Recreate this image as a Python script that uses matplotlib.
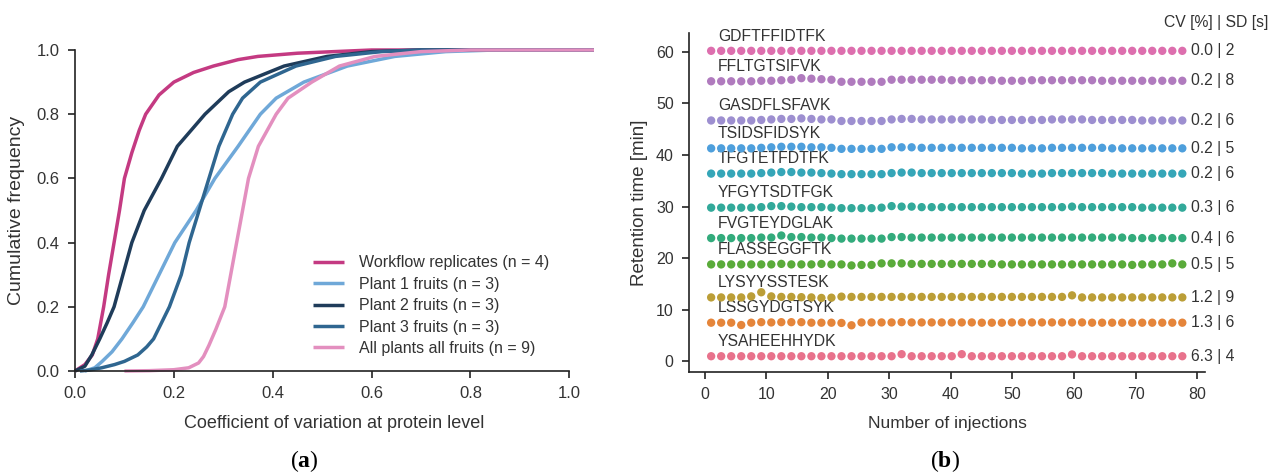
import matplotlib
matplotlib.use("Agg")
import matplotlib.pyplot as plt

plt.rcParams['font.family'] = ['Liberation Sans', 'DejaVu Sans']
plt.rcParams['mathtext.fontset'] = 'custom'
plt.rcParams['mathtext.rm'] = 'Liberation Serif'
plt.rcParams['mathtext.bf'] = 'Liberation Serif:bold'

TXT = '#333333'

# ---------------- Panel (a) data: cumulative CV curves ----------------
series_names = ['Workflow replicates (n = 4)', 'Plant 1 fruits (n = 3)',
                'Plant 2 fruits (n = 3)', 'Plant 3 fruits (n = 3)',
                'All plants all fruits (n = 9)']
series_colors = ['#c43a82', '#6fa8d8', '#1f3c5a', '#2f6690', '#e38fbf']

wf_x = [0, 0.02, 0.035, 0.046, 0.058, 0.068, 0.079, 0.09, 0.10, 0.115, 0.13, 0.143,
        0.17, 0.2, 0.24, 0.28, 0.33, 0.37, 0.45, 0.6, 1.05]
wf_y = [0, 0.02, 0.05, 0.10, 0.2, 0.3, 0.4, 0.5, 0.6, 0.68, 0.75, 0.8,
        0.86, 0.9, 0.93, 0.95, 0.97, 0.98, 0.99, 1.0, 1.0]

p1_x = [0.02, 0.04, 0.055, 0.075, 0.095, 0.117, 0.138, 0.17, 0.202, 0.245, 0.283,
        0.33, 0.375, 0.407, 0.463, 0.551, 0.647, 0.75, 0.85, 1.05]
p1_y = [0, 0.01, 0.03, 0.06, 0.1, 0.15, 0.2, 0.3, 0.4, 0.5, 0.6,
        0.7, 0.8, 0.85, 0.9, 0.95, 0.98, 0.995, 1.0, 1.0]

p2_x = [0, 0.02, 0.034, 0.05, 0.065, 0.079, 0.097, 0.115, 0.14, 0.175, 0.207,
        0.235, 0.263, 0.311, 0.343, 0.423, 0.51, 0.6, 0.7, 1.05]
p2_y = [0, 0.015, 0.05, 0.1, 0.15, 0.2, 0.3, 0.4, 0.5, 0.6, 0.7,
        0.75, 0.8, 0.87, 0.9, 0.95, 0.98, 0.995, 1.0, 1.0]

p3_x = [0.01, 0.03, 0.054, 0.08, 0.1, 0.127, 0.145, 0.159, 0.175, 0.191, 0.215,
        0.231, 0.251, 0.271, 0.291, 0.319, 0.339, 0.375, 0.447, 0.527, 0.62, 0.7, 1.05]
p3_y = [0, 0.003, 0.01, 0.02, 0.03, 0.05, 0.075, 0.1, 0.15, 0.2, 0.3,
        0.4, 0.5, 0.6, 0.7, 0.8, 0.85, 0.9, 0.95, 0.98, 0.995, 1.0, 1.0]

all_x = [0.1, 0.15, 0.2, 0.23, 0.25, 0.26, 0.271, 0.285, 0.303, 0.315, 0.327,
         0.339, 0.351, 0.371, 0.407, 0.431, 0.479, 0.535, 0.607, 0.7, 0.8, 1.05]
all_y = [0, 0.001, 0.004, 0.01, 0.025, 0.045, 0.08, 0.13, 0.2, 0.3, 0.4,
         0.5, 0.6, 0.7, 0.8, 0.85, 0.9, 0.95, 0.98, 0.995, 1.0, 1.0]

curves_x = [wf_x, p1_x, p2_x, p3_x, all_x]
curves_y = [wf_y, p1_y, p2_y, p3_y, all_y]

# ---------------- Panel (b) data: retention times ----------------
injections = [1.0, 2.63, 4.26, 5.89, 7.52, 9.15, 10.78, 12.41, 14.04, 15.67, 17.3, 18.93,
              20.56, 22.19, 23.82, 25.45, 27.08, 28.71, 30.34, 31.97, 33.6, 35.23, 36.86, 38.49,
              40.12, 41.75, 43.38, 45.01, 46.64, 48.27, 49.9, 51.53, 53.16, 54.79, 56.42, 58.05,
              59.68, 61.31, 62.94, 64.57, 66.2, 67.83, 69.46, 71.09, 72.72, 74.35, 75.98, 77.61]

peptides = ['YSAHEEHHYDK', 'LSSGYDGTSYK', 'LYSYYSSTESK', 'FLASSEGGFTK', 'FVGTEYDGLAK',
            'YFGYTSDTFGK', 'TFGTETFDTFK', 'TSIDSFIDSYK', 'GASDFLSFAVK', 'FFLTGTSIFVK',
            'GDFTFFIDTFK']
cv_sd = ['6.3 | 4', '1.3 | 6', '1.2 | 9', '0.5 | 5', '0.4 | 6', '0.3 | 6', '0.2 | 6',
         '0.2 | 5', '0.2 | 6', '0.2 | 8', '0.0 | 2']
pep_colors = ['#e8728c', '#e5853a', '#bb9e37', '#5aab3a', '#33ab7c', '#32a99a',
              '#35a6b8', '#4e9fdc', '#9d8fd0', '#b07bbe', '#dd6fae']

rt_YSAH = [1.0, 1.0, 1.0, 1.0, 1.0, 1.0, 1.0, 1.0, 1.0, 1.0, 1.0, 1.0,
           1.0, 1.0, 1.0, 1.0, 1.0, 1.0, 1.0, 1.4, 1.0, 1.0, 1.0, 1.0,
           1.0, 1.4, 1.0, 1.0, 1.0, 1.0, 1.0, 1.0, 1.0, 1.0, 1.0, 1.0,
           1.35, 1.0, 1.0, 1.0, 1.0, 1.0, 1.0, 1.0, 1.0, 1.0, 1.0, 1.0]
rt_LSSG = [7.5, 7.5, 7.5, 7.05, 7.5, 7.6, 7.55, 7.6, 7.6, 7.6, 7.5, 7.5,
           7.5, 7.45, 7.0, 7.55, 7.55, 7.55, 7.55, 7.6, 7.55, 7.55, 7.55, 7.55,
           7.55, 7.55, 7.55, 7.5, 7.5, 7.5, 7.55, 7.55, 7.55, 7.55, 7.55, 7.55,
           7.55, 7.55, 7.5, 7.5, 7.5, 7.5, 7.5, 7.5, 7.5, 7.5, 7.5, 7.5]
rt_LYSY = [12.4, 12.4, 12.4, 12.4, 12.6, 13.4, 12.6, 12.5, 12.5, 12.45, 12.4, 12.3,
           12.35, 12.55, 12.5, 12.5, 12.5, 12.5, 12.5, 12.5, 12.5, 12.5, 12.5, 12.5,
           12.5, 12.5, 12.5, 12.5, 12.5, 12.5, 12.5, 12.5, 12.5, 12.5, 12.5, 12.5,
           12.8, 12.4, 12.4, 12.4, 12.4, 12.4, 12.4, 12.4, 12.4, 12.4, 12.4, 12.4]
rt_FLAS = [18.8, 18.8, 18.8, 18.8, 18.8, 18.8, 18.8, 18.9, 18.8, 18.8, 18.8, 18.9,
           18.8, 18.8, 18.6, 18.7, 18.7, 19.0, 19.0, 19.0, 18.9, 18.9, 18.9, 18.9,
           18.9, 18.9, 18.9, 18.9, 18.9, 18.8, 18.8, 18.8, 18.8, 18.8, 18.8, 18.8,
           18.8, 18.8, 18.8, 18.8, 18.8, 18.8, 18.7, 18.8, 18.8, 18.8, 19.0, 18.8]
rt_FVGT = [23.9, 23.9, 23.9, 23.9, 23.9, 24.0, 24.0, 24.4, 24.1, 24.1, 24.0, 24.0,
           23.9, 23.8, 23.8, 23.8, 23.8, 23.8, 24.1, 24.1, 24.0, 24.0, 24.0, 24.0,
           24.0, 24.0, 24.0, 24.0, 24.0, 24.0, 24.0, 24.0, 24.0, 24.0, 24.0, 24.0,
           24.0, 24.0, 24.0, 24.0, 24.0, 24.0, 23.9, 23.9, 23.9, 23.9, 23.9, 23.9]
rt_YFGY = [29.8, 29.8, 29.8, 29.8, 29.8, 29.9, 30.1, 30.1, 30.0, 29.9, 29.9, 29.9,
           29.8, 29.7, 29.7, 29.7, 29.7, 29.8, 30.1, 30.0, 30.0, 29.9, 29.9, 29.9,
           29.9, 29.9, 29.9, 29.9, 29.9, 29.9, 29.9, 29.9, 29.9, 29.9, 29.9, 29.9,
           30.0, 29.9, 29.9, 29.9, 29.9, 29.9, 29.9, 29.8, 29.8, 29.8, 29.8, 29.8]
rt_TFGT = [36.4, 36.4, 36.4, 36.4, 36.4, 36.5, 36.6, 36.7, 36.7, 36.6, 36.6, 36.5,
           36.4, 36.3, 36.3, 36.3, 36.3, 36.3, 36.5, 36.6, 36.6, 36.5, 36.5, 36.5,
           36.5, 36.5, 36.5, 36.5, 36.5, 36.5, 36.5, 36.4, 36.4, 36.4, 36.5, 36.5,
           36.5, 36.5, 36.5, 36.5, 36.4, 36.4, 36.4, 36.4, 36.4, 36.4, 36.4, 36.4]
rt_TSID = [41.3, 41.3, 41.3, 41.3, 41.3, 41.4, 41.5, 41.6, 41.6, 41.6, 41.5, 41.5,
           41.4, 41.2, 41.2, 41.2, 41.2, 41.2, 41.5, 41.5, 41.5, 41.4, 41.4, 41.4,
           41.4, 41.4, 41.4, 41.4, 41.4, 41.4, 41.4, 41.3, 41.3, 41.3, 41.4, 41.4,
           41.4, 41.4, 41.4, 41.4, 41.3, 41.3, 41.3, 41.3, 41.3, 41.3, 41.3, 41.3]
rt_GASD = [46.7, 46.7, 46.7, 46.7, 46.7, 46.8, 46.9, 47.0, 47.0, 47.1, 47.0, 46.9,
           46.9, 46.6, 46.6, 46.6, 46.6, 46.6, 46.9, 47.0, 47.0, 46.9, 46.9, 46.9,
           46.9, 46.9, 46.9, 46.9, 46.8, 46.8, 46.8, 46.8, 46.8, 46.8, 46.9, 46.9,
           46.9, 46.9, 46.8, 46.8, 46.8, 46.8, 46.8, 46.7, 46.7, 46.7, 46.7, 46.7]
rt_FFLT = [54.3, 54.3, 54.3, 54.3, 54.3, 54.4, 54.4, 54.5, 54.6, 54.9, 54.8, 54.7,
           54.6, 54.2, 54.2, 54.2, 54.2, 54.2, 54.6, 54.6, 54.6, 54.6, 54.6, 54.6,
           54.5, 54.5, 54.5, 54.5, 54.5, 54.4, 54.4, 54.4, 54.5, 54.5, 54.5, 54.5,
           54.5, 54.5, 54.5, 54.4, 54.4, 54.4, 54.4, 54.4, 54.4, 54.4, 54.4, 54.4]
rt_GDFT = [60.2, 60.2, 60.2, 60.2, 60.2, 60.2, 60.2, 60.2, 60.2, 60.2, 60.2, 60.2,
           60.2, 60.2, 60.2, 60.2, 60.2, 60.2, 60.2, 60.2, 60.2, 60.2, 60.2, 60.2,
           60.2, 60.2, 60.2, 60.2, 60.2, 60.2, 60.2, 60.2, 60.2, 60.2, 60.2, 60.2,
           60.2, 60.2, 60.2, 60.2, 60.2, 60.2, 60.2, 60.2, 60.2, 60.2, 60.2, 60.2]
rt_rows = [rt_YSAH, rt_LSSG, rt_LYSY, rt_FLAS, rt_FVGT, rt_YFGY, rt_TFGT,
           rt_TSID, rt_GASD, rt_FFLT, rt_GDFT]

# ---------------- Figure ----------------
fig = plt.figure(figsize=(12.72, 4.75), dpi=100)
axA = fig.add_axes([75 / 1272, (475 - 371) / 475, 519 / 1272, 321 / 475])
axB = fig.add_axes([689 / 1272, (475 - 371.7) / 475, 516 / 1272, 338.4 / 475])

for ax in (axA, axB):
    for s in ('top', 'right'):
        ax.spines[s].set_visible(False)
    for s in ('left', 'bottom'):
        ax.spines[s].set_color('#222222')
        ax.spines[s].set_linewidth(1.2)
    ax.tick_params(direction='out', length=5, width=1.2, color='#222222',
                   labelcolor=TXT, pad=6)
axA.tick_params(labelsize=12)
axB.tick_params(labelsize=11.5)

# Panel (a)
for xs, ys, name, col in zip(curves_x, curves_y, series_names, series_colors):
    axA.plot(xs, ys, color=col, lw=2.5, label=name, clip_on=False,
             solid_capstyle='butt')
axA.set_xlim(0, 1.05)
axA.set_ylim(0, 1.0)
axA.spines['bottom'].set_bounds(0, 1.0)
axA.set_xticks([0, 0.2, 0.4, 0.6, 0.8, 1.0])
axA.set_xticklabels(['0.0', '0.2', '0.4', '0.6', '0.8', '1.0'])
axA.set_yticks([0, 0.2, 0.4, 0.6, 0.8, 1.0])
axA.set_yticklabels(['0.0', '0.2', '0.4', '0.6', '0.8', '1.0'])
axA.set_xlabel('Coefficient of variation at protein level', fontsize=13, color=TXT, labelpad=10)
axA.set_ylabel('Cumulative frequency', fontsize=14, color=TXT, labelpad=8)
leg = axA.legend(loc='upper left', bbox_to_anchor=(0.43, 0.405), frameon=False,
                 fontsize=11.5, handlelength=2.0, handletextpad=0.9, labelspacing=0.4)
for t in leg.get_texts():
    t.set_color(TXT)

# Panel (b)
for ys, col, pep, lab in zip(rt_rows, pep_colors, peptides, cv_sd):
    axB.scatter(injections, ys, s=36, color=col, edgecolors='none', zorder=3)
    axB.text(2.1, ys[0] + 1.4, pep, fontsize=11.3, color=TXT, ha='left', va='bottom')
    axB.text(79.0, ys[-1], lab, fontsize=11.3, color=TXT, ha='left', va='center')
axB.set_xlim(-2.6, 81.3)
axB.set_ylim(-2.0, 63.6)
axB.set_xticks([0, 10, 20, 30, 40, 50, 60, 70, 80])
axB.set_yticks([0, 10, 20, 30, 40, 50, 60])
axB.set_xlabel('Number of injections', fontsize=12.5, color=TXT, labelpad=10)
axB.set_ylabel('Retention time [min]', fontsize=13.5, color=TXT, labelpad=6)
fig.text(1268 / 1272, 1 - 23 / 475, 'CV [%] | SD [s]', fontsize=11.3, color=TXT,
         ha='right', va='center')

fig.text(304 / 1272, 1 - 461 / 475, r'$\mathrm{(}\mathbf{a}\mathrm{)}$', fontsize=17,
         ha='center', va='center', color='black')
fig.text(945 / 1272, 1 - 461 / 475, r'$\mathrm{(}\mathbf{b}\mathrm{)}$', fontsize=17,
         ha='center', va='center', color='black')

fig.savefig('out.png', dpi=100, facecolor='white')
